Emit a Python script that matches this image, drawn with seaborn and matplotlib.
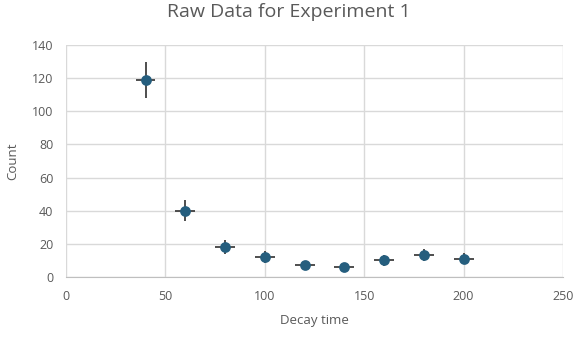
import numpy as np
import pandas as pd
import seaborn as sns
import matplotlib.pyplot as plt

# Data
decay_time = [40, 60, 80, 100, 120, 140, 160, 180, 200]
count = [119, 40, 18, 12, 7, 6, 10, 13, 11]
count_err = [10.9, 6.3, 4.2, 3.5, 2.6, 2.4, 3.2, 3.6, 3.3]
time_err = [5, 5, 5, 5, 5, 5, 5, 5, 5]

df = pd.DataFrame({'Decay time': decay_time, 'Count': count})

sns.set_style('white')
plt.rcParams['font.family'] = ['Open Sans', 'DejaVu Sans']

fig = plt.figure(figsize=(5.75, 3.39), dpi=100)
ax = fig.add_axes([66 / 575, 1 - 277 / 339, 497 / 575, 232 / 339])

grey = '#595959'
ax.errorbar(df['Decay time'], df['Count'], yerr=count_err, xerr=time_err,
            fmt='none', ecolor='#404040', elinewidth=1.3, zorder=2)
sns.scatterplot(data=df, x='Decay time', y='Count', ax=ax, color='#255e7e',
                s=60, edgecolor='#255e7e', linewidth=0, zorder=3)

ax.set_xlim(0, 250)
ax.set_ylim(0, 140)
ax.set_xticks(range(0, 251, 50))
ax.set_yticks(range(0, 141, 20))
ax.grid(True, color='#d9d9d9', linewidth=1)
ax.set_axisbelow(True)
for side in ['top', 'right', 'left']:
    ax.spines[side].set_visible(False)
ax.spines['bottom'].set_color('#bfbfbf')
ax.tick_params(axis='both', length=0, labelsize=9, colors=grey, pad=9)

ax.set_xlabel('Decay time', fontsize=9.5, color=grey, labelpad=8)
ax.set_ylabel('Count', fontsize=9.5, color=grey, labelpad=9)
fig.suptitle('Raw Data for Experiment 1', fontsize=14, color=grey, x=0.503, y=0.99)

fig.savefig('out.png', dpi=100)
